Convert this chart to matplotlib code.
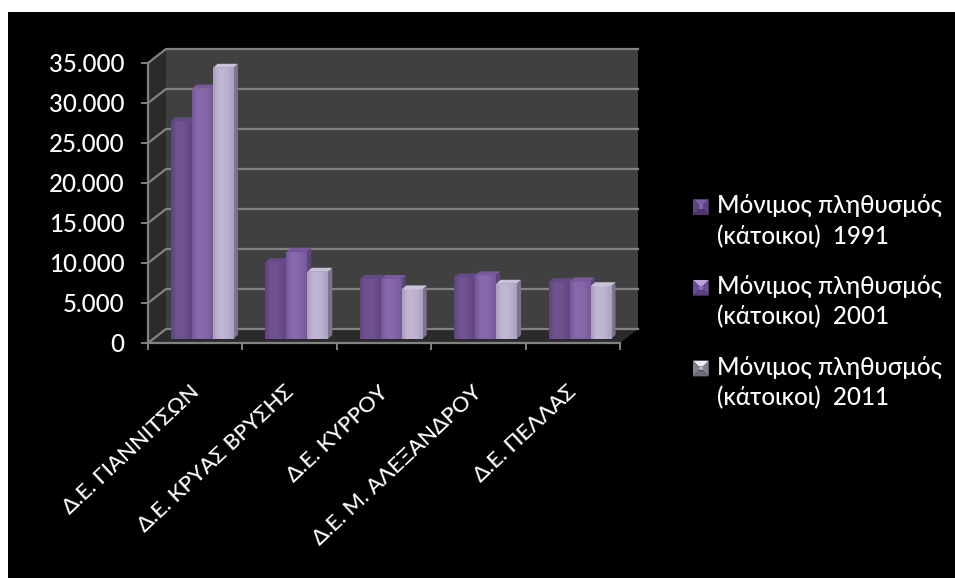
import matplotlib
matplotlib.use('Agg')
import matplotlib.pyplot as plt
import numpy as np
from matplotlib.colors import LinearSegmentedColormap
from matplotlib.legend_handler import HandlerBase
from matplotlib.patches import Patch, Polygon, Rectangle
from matplotlib.ticker import FuncFormatter

plt.rcParams['font.family'] = ['Lato', 'Noto Sans', 'DejaVu Sans']
plt.rcParams['font.weight'] = 'medium'

categories = ['Δ.Ε. ΓΙΑΝΝΙΤΣΩΝ', 'Δ.Ε. ΚΡΥΑΣ ΒΡΥΣΗΣ', 'Δ.Ε. ΚΥΡΡΟΥ',
              'Δ.Ε. Μ. ΑΛΕΞΑΝΔΡΟΥ', 'Δ.Ε. ΠΕΛΛΑΣ']
pop_1991 = [27200, 9600, 7500, 7700, 7100]
pop_2001 = [31300, 10900, 7500, 7950, 7200]
pop_2011 = [33900, 8400, 6200, 6900, 6600]
series_labels = ['Μόνιμος πληθυσμός\n(κάτοικοι)  1991',
                 'Μόνιμος πληθυσμός\n(κάτοικοι)  2001',
                 'Μόνιμος πληθυσμός\n(κάτοικοι)  2011']
y_ticks = [0, 5000, 10000, 15000, 20000, 25000, 30000, 35000]

# face gradient (edge, middle), side and top colours for each series
face_colors = [('#5f4680', '#6f5490'), ('#745a9a', '#8769ac'), ('#aaa0bc', '#c1b6d4')]
side_colors = ['#533d6e', '#5c4578', '#7d758f']
top_colors = ['#65498a', '#7a58a0', '#cbc2da']
# legend key shades: bottom, right, top, left, centre
key_colors = [['#4a3668', '#5a4480', '#7a5ea6', '#5a4480', '#8366b0'],
              ['#5a4280', '#6a4f92', '#b9a4dc', '#6a4f92', '#8a6cb4'],
              ['#6e6a78', '#85808f', '#f0ecf6', '#85808f', '#b8b0c6']]

W, H = 955, 578
GRID = '#828282'
TEXT = '#ffffff'

# 3d look, all in data units of the front plane
WALL_DX = 18 / 94.4
WALL_DY = 1750
BAR_LIFT = 500
BAR_OFFSET = 23 / 94.4
BAR_W = 21 / 94.4
BAR_DX = 4.5 / 94.4
BAR_DY = 500
LABEL_SHIFT = 6 / 94.4


class BevelHandler(HandlerBase):
    # small pyramid square like the office legend keys
    def create_artists(self, legend, orig, xd, yd, width, height, fontsize, trans):
        side = min(width, height)
        x0, y0 = -xd, -yd + height - side + 10.5
        a, b, c, d = (x0, y0), (x0 + side, y0), (x0 + side, y0 + side), (x0, y0 + side)
        inner = 0.38 * side
        ia, ib = (a[0] + inner, a[1] + inner), (b[0] - inner, b[1] + inner)
        ic, id_ = (c[0] - inner, c[1] - inner), (d[0] + inner, d[1] - inner)
        shades = key_colors[handles.index(orig)]
        out = []
        for pts, col in zip([[a, b, ib, ia], [b, c, ic, ib], [c, d, id_, ic],
                             [d, a, ia, id_], [ia, ib, ic, id_]], shades):
            out.append(Polygon(pts, closed=True, facecolor=col, edgecolor='none', transform=trans))
        return out


fig = plt.figure(figsize=(W / 100, H / 100), dpi=100, facecolor='white')
fig.patches.append(Rectangle((8 / W, 0), 1 - 8 / W, 1 - 12 / H, transform=fig.transFigure,
                             facecolor='black', edgecolor='none', zorder=-1))

ax = fig.add_axes([148 / W, 1 - 343 / H, 472 / W, 280 / H])
ax.patch.set_visible(False)
n = len(categories)
top = y_ticks[-1]
ax.set_xlim(0, n)
ax.set_ylim(0, top)

# walls and floor
ax.add_patch(Polygon([(WALL_DX, WALL_DY), (n + WALL_DX, WALL_DY), (n + WALL_DX, top + WALL_DY),
                      (WALL_DX, top + WALL_DY)], facecolor='#404040', edgecolor='none',
                     clip_on=False, zorder=1))
ax.add_patch(Polygon([(0, 0), (WALL_DX, WALL_DY), (WALL_DX, top + WALL_DY), (0, top)],
                     facecolor='#2b2b2b', edgecolor='none', clip_on=False, zorder=1))
ax.add_patch(Polygon([(0, 0), (n, 0), (n + WALL_DX, WALL_DY), (WALL_DX, WALL_DY)],
                     facecolor='#2b2b2b', edgecolor='none', clip_on=False, zorder=1))

# gridlines bent along the left wall
for v in y_ticks:
    ax.plot([0, WALL_DX, n + WALL_DX], [v, v + WALL_DY, v + WALL_DY], color=GRID, lw=1.6,
            clip_on=False, zorder=2, solid_joinstyle='round')

# bars
xs = np.arange(n)
grad = np.array([0.0, 0.9, 1.0, 1.0, 0.85, 0.55, 0.1]).reshape(1, -1)
z = 3
for g in range(n):
    for s, values in enumerate([pop_1991, pop_2001, pop_2011]):
        left = xs[g] + BAR_OFFSET + s * BAR_W
        val = values[g]
        bar = ax.bar(left, val, BAR_W * 0.97, bottom=BAR_LIFT, align='edge',
                     color=face_colors[s][1], zorder=z + 1, clip_on=False)[0]
        cmap = LinearSegmentedColormap.from_list('f', face_colors[s])
        im = ax.imshow(grad, extent=(left, left + BAR_W * 0.97, BAR_LIFT, BAR_LIFT + val),
                       cmap=cmap, vmin=0, vmax=1, aspect='auto', interpolation='bicubic',
                       zorder=z + 1.5)
        im.set_clip_path(bar)
        right = left + BAR_W * 0.97
        y1 = BAR_LIFT + val
        ax.add_patch(Polygon([(right, BAR_LIFT), (right + BAR_DX, BAR_LIFT + BAR_DY),
                              (right + BAR_DX, y1 + BAR_DY), (right, y1)],
                             facecolor=side_colors[s], edgecolor='none', clip_on=False, zorder=z))
        ax.add_patch(Polygon([(left, y1), (right, y1), (right + BAR_DX, y1 + BAR_DY),
                              (left + BAR_DX, y1 + BAR_DY)],
                             facecolor=top_colors[s], edgecolor='none', clip_on=False, zorder=z + 2))
        z += 3
ax.set_xlim(0, n)
ax.set_ylim(0, top)

# axes
for name in ['top', 'right']:
    ax.spines[name].set_visible(False)
for name in ['left', 'bottom']:
    ax.spines[name].set_color(GRID)
    ax.spines[name].set_linewidth(1.6)
    ax.spines[name].set_zorder(200)
ax.set_yticks(y_ticks)
ax.yaxis.set_major_formatter(FuncFormatter(lambda v, _: f'{int(v):,}'.replace(',', '.')))
ax.set_xticks(np.arange(n + 1))
ax.set_xticks(xs + 0.5 - LABEL_SHIFT, minor=True)
ax.set_xticklabels([''] * (n + 1))
ax.set_xticklabels(categories, minor=True, rotation=43, ha='right', rotation_mode='anchor',
                   color=TEXT, fontsize=15.8)
ax.tick_params(axis='x', which='major', length=5, width=1.4, color=GRID)
ax.tick_params(axis='x', which='minor', length=0, pad=28)
ax.tick_params(axis='y', length=5, width=1.4, color=GRID, labelcolor=TEXT, labelsize=17.3, pad=12)

handles = [Patch(facecolor=c) for c in ['#6b4f90', '#7d5fa8', '#a9a0b8']]
leg = ax.legend(handles, series_labels, loc='upper left', bbox_to_anchor=(693 / W, 1 - 194 / H),
                bbox_transform=fig.transFigure, frameon=False, fontsize=17.4, labelcolor=TEXT,
                handler_map={Patch: BevelHandler()}, handlelength=0.65, handleheight=0.65,
                handletextpad=0.33, labelspacing=1.11, borderpad=0, borderaxespad=0)
for t in leg.get_texts():
    t.set_linespacing(1.38)

fig.savefig('out.png', dpi=100, facecolor=fig.get_facecolor())
